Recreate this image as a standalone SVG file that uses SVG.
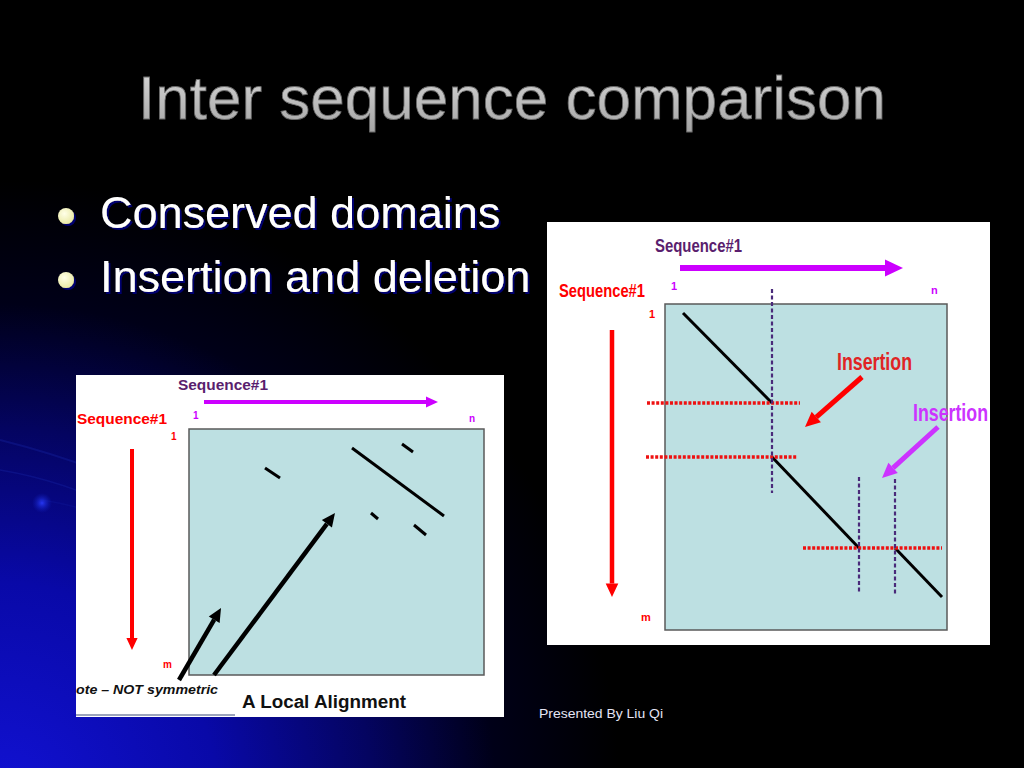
<svg xmlns="http://www.w3.org/2000/svg" width="1024" height="768" viewBox="0 0 1024 768">
<defs>
<radialGradient id="bg" cx="0" cy="800" r="620" gradientUnits="userSpaceOnUse">
<stop offset="0" stop-color="#1212d4"/>
<stop offset="0.35" stop-color="#0909a8"/>
<stop offset="0.6" stop-color="#040460"/>
<stop offset="0.8" stop-color="#000018"/>
<stop offset="1" stop-color="#000000"/>
</radialGradient>
<linearGradient id="titleGrad" x1="0" y1="0" x2="0" y2="1">
<stop offset="0" stop-color="#dcdcdc"/>
<stop offset="1" stop-color="#a4a4a4"/>
</linearGradient>
<radialGradient id="bulletGrad" cx="0.4" cy="0.35" r="0.7">
<stop offset="0" stop-color="#ffffe8"/>
<stop offset="1" stop-color="#e8e8a0"/>
</radialGradient>
<radialGradient id="glow" cx="0.5" cy="0.5" r="0.5">
<stop offset="0" stop-color="#2a3cff" stop-opacity="0.9"/>
<stop offset="1" stop-color="#1020c0" stop-opacity="0"/>
</radialGradient>
<filter id="shadow" x="-10%" y="-20%" width="130%" height="150%">
<feDropShadow dx="2" dy="2" stdDeviation="0.6" flood-color="#000070" flood-opacity="1"/>
</filter>
<marker id="hPurple" markerUnits="strokeWidth" orient="auto" refX="0" refY="0" overflow="visible"><path d="M0,-1.4 L3,0 L0,1.4 z" fill="#cc00ff"/></marker>
<marker id="hRed" markerUnits="strokeWidth" orient="auto" refX="0" refY="0" overflow="visible"><path d="M0,-1.4 L3,0 L0,1.4 z" fill="#ff0000"/></marker>
<marker id="hBlack" markerUnits="strokeWidth" orient="auto" refX="0" refY="0" overflow="visible"><path d="M0,-1.4 L3,0 L0,1.4 z" fill="#000000"/></marker>
<marker id="hViolet" markerUnits="strokeWidth" orient="auto" refX="0" refY="0" overflow="visible"><path d="M0,-1.4 L3,0 L0,1.4 z" fill="#cc33ff"/></marker>
<style>
.sans{font-family:"Liberation Sans",Arial,sans-serif}
.panel{fill:#ffffff}
.matrix{fill:#bde0e2;stroke:#5a5a5a;stroke-width:1.5}
.seqP{fill:#5a1e6e;font-weight:bold}
.seqR{fill:#ff0000;font-weight:bold}
.lblP{fill:#cc00ff;font-weight:bold}
.lblR{fill:#ff0000;font-weight:bold}
.arP{stroke:#cc00ff;fill:none;marker-end:url(#hPurple)}
.arR{stroke:#ff0000;fill:none;marker-end:url(#hRed)}
.arB{stroke:#000000;fill:none;marker-end:url(#hBlack)}
.arV{stroke:#cc33ff;fill:none;marker-end:url(#hViolet)}
.dot{stroke:#000;stroke-width:3;fill:none}
.redDot{stroke:#ee1111;stroke-width:3.5;stroke-dasharray:3 1.6;fill:none}
.purDot{stroke:#4a2a7a;stroke-width:2.2;stroke-dasharray:4 2.5;fill:none}
.bullet{fill:#ffffff;font-size:45px}
</style>
</defs>

<rect width="1024" height="768" fill="#000"/>
<rect width="1024" height="768" fill="url(#bg)"/>
<g id="background-swoosh" fill="none" stroke="#1a2ab0" stroke-opacity="0.3">
<path d="M0,440 C80,460 160,490 230,540" stroke-width="2"/>
<path d="M0,470 C60,480 130,505 200,560" stroke-width="1.5"/>
<path d="M40,500 C120,510 200,560 260,640" stroke-width="1.5" stroke-opacity="0.2"/>
</g>
<circle cx="42" cy="503" r="10" fill="url(#glow)"/>

<g id="title">
<text class="sans" x="138" y="119" font-size="62" fill="url(#titleGrad)" stroke="#6a6a6a" stroke-width="0.8">Inter sequence comparison</text>
</g>

<g id="bullets" filter="url(#shadow)">
<circle cx="66" cy="216" r="8" fill="url(#bulletGrad)"/>
<text class="sans bullet" x="100" y="228">Conserved domains</text>
<circle cx="66" cy="280" r="8" fill="url(#bulletGrad)"/>
<text class="sans bullet" x="100" y="292">Insertion and deletion</text>
</g>

<g id="local-alignment-panel">
<rect class="panel" x="76" y="375" width="428" height="342"/>
<line x1="76" y1="715" x2="235" y2="715" stroke="#3a4a7a" stroke-width="1.2"/>
<text class="sans seqP" x="178" y="390" font-size="15" textLength="90" lengthAdjust="spacingAndGlyphs">Sequence#1</text>
<text class="sans seqR" x="77" y="424" font-size="15" textLength="90" lengthAdjust="spacingAndGlyphs">Sequence#1</text>
<text class="sans lblP" x="193" y="419" font-size="10">1</text>
<text class="sans lblP" x="469" y="422" font-size="10">n</text>
<text class="sans lblR" x="171" y="440" font-size="10">1</text>
<text class="sans lblR" x="163" y="668" font-size="10">m</text>
<rect class="matrix" x="189" y="429" width="295" height="246"/>
<g id="local-dots">
<line class="dot" x1="265" y1="468" x2="280" y2="478"/>
<line class="dot" x1="352" y1="448" x2="444" y2="516"/>
<line class="dot" x1="402" y1="444" x2="413" y2="452"/>
<line class="dot" x1="371" y1="513" x2="378" y2="519"/>
<line class="dot" x1="414" y1="525" x2="426" y2="535"/>
</g>
<text class="sans" x="76" y="694" font-size="13" font-weight="bold" font-style="italic" fill="#111" textLength="142" lengthAdjust="spacingAndGlyphs">ote – NOT symmetric</text>
<text class="sans" x="242" y="708" font-size="17.5" font-weight="bold" fill="#111" textLength="164" lengthAdjust="spacingAndGlyphs">A Local Alignment</text>
</g>

<g id="global-alignment-panel">
<rect class="panel" x="547" y="222" width="443" height="423"/>
<text class="sans seqP" x="655" y="252" font-size="18" textLength="87" lengthAdjust="spacingAndGlyphs">Sequence#1</text>
<text class="sans seqR" x="559" y="297" font-size="18" textLength="86" lengthAdjust="spacingAndGlyphs">Sequence#1</text>
<text class="sans lblP" x="671" y="290" font-size="11">1</text>
<text class="sans lblP" x="931" y="294" font-size="11">n</text>
<text class="sans lblR" x="649" y="318" font-size="11">1</text>
<text class="sans lblR" x="641" y="621" font-size="11">m</text>
<rect class="matrix" x="665" y="304" width="282" height="326"/>
<g id="global-path">
<polyline points="683,313 772,403" stroke="#000" stroke-width="3" fill="none"/>
<polyline points="772,457 859,548" stroke="#000" stroke-width="3" fill="none"/>
<polyline points="895,548 942,597" stroke="#000" stroke-width="3" fill="none"/>
</g>
<g id="gap-lines">
<line class="redDot" x1="647" y1="403" x2="800" y2="403"/>
<line class="redDot" x1="646" y1="457" x2="797" y2="457"/>
<line class="redDot" x1="803" y1="548" x2="942" y2="548"/>
<line class="purDot" x1="772" y1="289" x2="772" y2="493"/>
<line class="purDot" x1="859" y1="477" x2="859" y2="592"/>
<line class="purDot" x1="895" y1="479" x2="895" y2="595"/>
</g>
<text class="sans" x="837" y="370" font-size="23" font-weight="bold" fill="#e02424" textLength="75" lengthAdjust="spacingAndGlyphs">Insertion</text>
<text class="sans" x="913" y="421" font-size="24" font-weight="bold" fill="#cc33ff" textLength="75" lengthAdjust="spacingAndGlyphs">Insertion</text>
</g>

<g id="connectors">
<line class="arP" x1="204" y1="402" x2="426" y2="402" stroke-width="4"/>
<line class="arR" x1="132" y1="449" x2="132" y2="638" stroke-width="4"/>
<line class="arB" x1="179" y1="680" x2="214.2" y2="619.7" stroke-width="4.5"/>
<line class="arB" x1="214" y1="675" x2="326.9" y2="523.8" stroke-width="4.5"/>
<line class="arP" x1="680" y1="268" x2="885" y2="268" stroke-width="6"/>
<line class="arR" x1="612" y1="330" x2="612" y2="583.5" stroke-width="4.5"/>
<line class="arR" x1="862" y1="377" x2="816.3" y2="417.1" stroke-width="5"/>
<line class="arV" x1="938" y1="427" x2="893.1" y2="467.9" stroke-width="5"/>
</g>

<g id="footer">
<text class="sans" x="539" y="718" font-size="13" fill="#e4e4f4" textLength="124" lengthAdjust="spacingAndGlyphs">Presented By Liu Qi</text>
</g>
</svg>
